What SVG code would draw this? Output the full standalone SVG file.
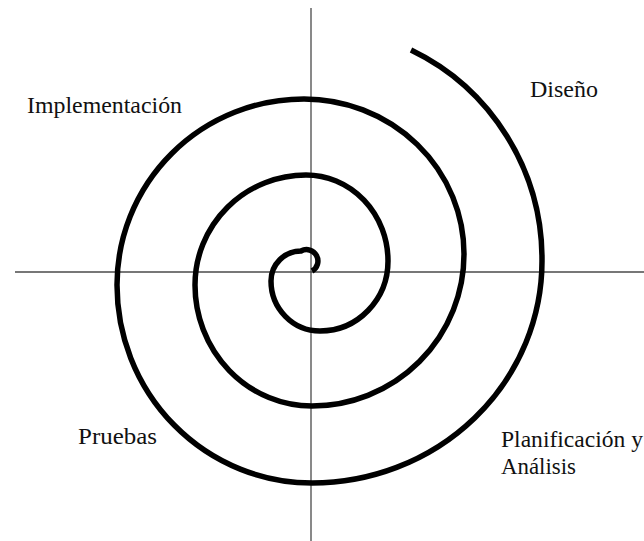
<svg xmlns="http://www.w3.org/2000/svg" width="644" height="541" viewBox="0 0 644 541">
<style>
.axis{stroke:#4a4a4a;stroke-width:1.3;fill:none}
.spiral{stroke:#000;stroke-width:5.5;fill:none;stroke-linecap:butt;stroke-linejoin:round}
.lbl{font-family:"Liberation Serif","Times New Roman",serif;font-size:23px;fill:#111}
</style>
<rect width="644" height="541" fill="#fff"/>
<g id="axes">
<line class="axis" x1="311" y1="8" x2="311" y2="541"/>
<line class="axis" x1="15" y1="272" x2="644" y2="272"/>
</g>
<g id="connectors">
<path id="spiral" class="spiral" d="M 312,271 A 11 11 0 0 0 301 251 A 30 30 0 0 0 271 281 A 49 50 0 0 0 320 331 A 68 70 0 0 0 388 261 A 82 86 0 0 0 306 175 A 111 110 0 0 0 195 285 A 117 121 0 0 0 312 406 A 152 152 0 0 0 464 254 A 160 155 0 0 0 304 99 A 187 186 0 0 0 117 285 A 195 198 0 0 0 312 483 A 230 222 0 0 0 542 261 A 230 232 0 0 0 411 50"/>
</g>
<g id="implementacion"><text class="lbl" x="27" y="113" textLength="155" lengthAdjust="spacingAndGlyphs">Implementación</text></g>
<g id="diseno"><text class="lbl" x="530" y="97" textLength="68" lengthAdjust="spacingAndGlyphs">Diseño</text></g>
<g id="pruebas"><text class="lbl" x="78" y="444" textLength="79" lengthAdjust="spacingAndGlyphs">Pruebas</text></g>
<g id="planificacion"><text class="lbl" x="501" y="447" textLength="142" lengthAdjust="spacingAndGlyphs">Planificación y</text><text class="lbl" x="501" y="474" textLength="75" lengthAdjust="spacingAndGlyphs">Análisis</text></g>
</svg>
